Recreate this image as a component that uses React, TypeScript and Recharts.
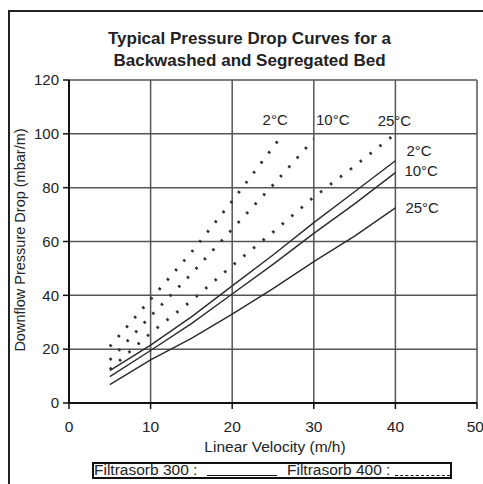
import { LineChart, Line, XAxis, YAxis, CartesianGrid } from 'recharts';

// Filtrasorb 300 (solid lines)
const f300Velocity = [5, 10, 15, 20, 25, 30, 35, 40];
const f300At2C = [12, 21.5, 32, 43.5, 55, 67, 78.5, 90];
const f300At10C = [9.8, 19.5, 29.5, 40.5, 51.5, 63, 74, 85.6];
const f300At25C = [6.8, 16, 24, 33, 42.5, 52.5, 62, 72.5];

// Filtrasorb 400 (dotted lines)
const f400Velocity2C = [5, 10, 15, 20, 25, 26];
const f400At2C = [21, 38.5, 56, 75, 95, 99];
const f400Velocity10C = [5, 10, 15, 20, 25, 30];
const f400At10C = [16, 32.3, 48, 64.6, 81, 98];
const f400Velocity25C = [5, 10, 15, 20, 25, 30, 35, 40];
const f400At25C = [12.5, 26, 38, 51, 63.5, 76.5, 88, 100];

const xTicks = [0, 10, 20, 30, 40, 50];
const yTicks = [0, 20, 40, 60, 80, 100, 120];

const toRows = (xs: number[], ys: number[]) => xs.map((v, i) => ({ v, p: ys[i] }));

const FONT = '"Liberation Sans", Arial, sans-serif';

// label drawn next to last point of a series
const endLabel = (text: string, count: number, dx: number, dy: number, anchor: string) => (props: any) => {
  if (props.index !== count - 1) return <g />;
  return (
    <text x={props.x + dx} y={props.y + dy} textAnchor={anchor} dominantBaseline="central"
      fontSize={15} fill="#222" fontFamily={FONT}>
      {text}
    </text>
  );
};

const solid = { stroke: '#2a2a2a', strokeWidth: 1.4 };
const dotted = { stroke: '#333', strokeWidth: 2.8, strokeDasharray: '2.5 10' };

export default function App() {
  return (
    <div style={{ position: 'fixed', left: 0, top: 0, width: 483, height: 484, overflow: 'hidden', background: '#fff', fontFamily: FONT, color: '#222' }}>
      <div style={{ position: 'absolute', left: 8, top: 10, width: 540, height: 540, border: '2px solid #222', boxSizing: 'border-box' }} />
      <div style={{ position: 'absolute', left: 0, top: 28, width: 499, textAlign: 'center', fontWeight: 'bold', fontSize: 17, lineHeight: '22px' }}>
        Typical Pressure Drop Curves for a<br />Backwashed and Segregated Bed
      </div>
      <div style={{ position: 'absolute', left: 0, top: 0 }}>
        <LineChart width={483} height={484} margin={{ top: 80, right: 6, left: 29, bottom: 51 }} style={{ fontFamily: FONT }}>
          <CartesianGrid stroke="#555" strokeWidth={1.5} />
          <XAxis type="number" dataKey="v" domain={[0, 50]} ticks={xTicks} height={30}
            axisLine={{ stroke: '#111', strokeWidth: 2 }} tickLine={{ stroke: '#111', strokeWidth: 1.5 }}
            tickSize={6} tickMargin={12} tick={{ fontSize: 15.5, fill: '#222' }} allowDuplicatedCategory={false} />
          <YAxis type="number" domain={[0, 120]} ticks={yTicks} width={40}
            axisLine={{ stroke: '#111', strokeWidth: 2 }} tickLine={{ stroke: '#111', strokeWidth: 1.5 }}
            tickSize={6} tickMargin={4} tick={{ fontSize: 15, fill: '#222' }} />
          <Line data={toRows(f400Velocity2C, f400At2C)} dataKey="p" {...dotted} dot={false} isAnimationActive={false}
            label={endLabel('2°C', f400Velocity2C.length, -6, -17, 'middle')} />
          <Line data={toRows(f400Velocity10C, f400At10C)} dataKey="p" {...dotted} dot={false} isAnimationActive={false}
            label={endLabel('10°C', f400Velocity10C.length, 19, -20, 'middle')} />
          <Line data={toRows(f400Velocity25C, f400At25C)} dataKey="p" {...dotted} dot={false} isAnimationActive={false}
            label={endLabel('25°C', f400Velocity25C.length, -1, -13, 'middle')} />
          <Line data={toRows(f300Velocity, f300At2C)} dataKey="p" {...solid} dot={false} isAnimationActive={false}
            label={endLabel('2°C', f300Velocity.length, 11, -10, 'start')} />
          <Line data={toRows(f300Velocity, f300At10C)} dataKey="p" {...solid} dot={false} isAnimationActive={false}
            label={endLabel('10°C', f300Velocity.length, 9, -2, 'start')} />
          <Line data={toRows(f300Velocity, f300At25C)} dataKey="p" {...solid} dot={false} isAnimationActive={false}
            label={endLabel('25°C', f300Velocity.length, 10, 0, 'start')} />
        </LineChart>
      </div>
      <div style={{ position: 'absolute', left: 20, top: 240, transform: 'translate(-50%, -50%) rotate(-90deg)', whiteSpace: 'nowrap', fontSize: 14.5 }}>
        Downflow Pressure Drop (mbar/m)
      </div>
      <div style={{ position: 'absolute', left: 275, top: 447, transform: 'translate(-50%, -50%)', whiteSpace: 'nowrap', fontSize: 15.5 }}>
        Linear Velocity (m/h)
      </div>
      <div style={{ position: 'absolute', left: 92, top: 462, width: 360, height: 17, border: '2px solid #111', boxSizing: 'border-box', overflow: 'hidden', fontSize: 15.5 }}>
        <span style={{ position: 'absolute', left: 0, top: -3, lineHeight: '17px', whiteSpace: 'nowrap' }}>Filtrasorb 300 :</span>
        <span style={{ position: 'absolute', left: 113, top: 11, width: 70, borderTop: '1.5px solid #111' }} />
        <span style={{ position: 'absolute', left: 193, top: -3, lineHeight: '17px', whiteSpace: 'nowrap' }}>Filtrasorb 400 :</span>
        <span style={{ position: 'absolute', left: 301, top: 11, width: 55, borderTop: '1.5px dashed #111' }} />
      </div>
    </div>
  );
}
